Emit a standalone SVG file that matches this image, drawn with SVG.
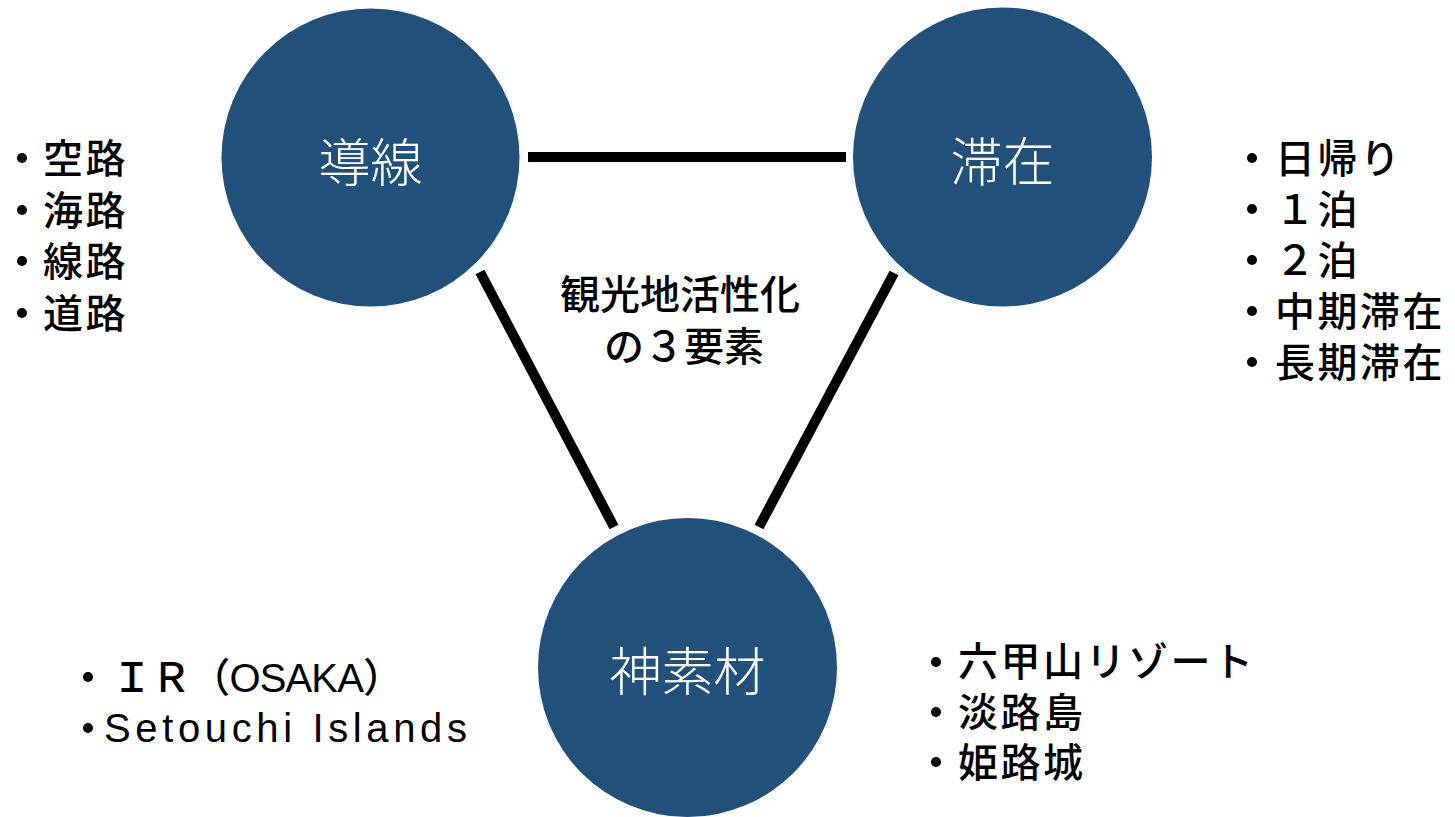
<svg xmlns="http://www.w3.org/2000/svg" width="1455" height="817" viewBox="0 0 1455 817">
<style>
.node{fill:#21507A;}
.lbl{font-family:"Noto Sans CJK JP","Noto Sans",sans-serif;font-size:52px;font-weight:300;fill:#FFFFFF;text-anchor:middle;}
.txt{font-family:"Liberation Sans","Noto Sans CJK JP",sans-serif;font-size:40px;font-weight:500;fill:#000000;letter-spacing:2.5px;}
.mid{font-family:"Liberation Sans","Noto Sans CJK JP",sans-serif;font-size:40px;font-weight:500;fill:#000000;text-anchor:middle;}
.conn{stroke:#000000;stroke-width:10;fill:none;stroke-linecap:butt;}
.bul{fill:#000000;}
</style>
<defs>
<circle id="b" r="5" class="bul"/>
</defs>
<rect width="1455" height="817" fill="#FFFFFF"/>
<g id="connectors">
<line class="conn" x1="528" y1="157" x2="846" y2="157"/>
<line class="conn" x1="480" y1="272" x2="614" y2="527"/>
<line class="conn" x1="894" y1="273" x2="759" y2="527"/>
</g>
<g id="node-dousen">
<circle class="node" cx="370.5" cy="157.5" r="149"/>
<text class="lbl" x="370.5" y="182">導線</text>
</g>
<g id="node-taizai">
<circle class="node" cx="1002.5" cy="157" r="149.5"/>
<text class="lbl" x="1002.5" y="181">滞在</text>
</g>
<g id="node-kamisozai">
<circle class="node" cx="687.5" cy="667.5" r="149.5"/>
<text class="lbl" x="687.5" y="691">神素材</text>
</g>
<g id="center-title">
<text class="mid" x="680" y="309">観光地活性化</text>
<text class="mid" x="684" y="361">の３要素</text>
</g>
<g id="list-dousen">
<use href="#b" x="22" y="158"/>
<use href="#b" x="22" y="210"/>
<use href="#b" x="22" y="261"/>
<use href="#b" x="22" y="313"/>
<text class="txt" x="43" y="173">空路</text>
<text class="txt" x="43" y="225">海路</text>
<text class="txt" x="43" y="276">線路</text>
<text class="txt" x="43" y="328">道路</text>
</g>
<g id="list-taizai">
<use href="#b" x="1252" y="158"/>
<use href="#b" x="1252" y="209"/>
<use href="#b" x="1252" y="260"/>
<use href="#b" x="1252" y="311"/>
<use href="#b" x="1252" y="362"/>
<text class="txt" x="1275" y="173">日帰り</text>
<text class="txt" x="1275" y="224">１泊</text>
<text class="txt" x="1275" y="275">２泊</text>
<text class="txt" x="1275" y="326">中期滞在</text>
<text class="txt" x="1275" y="377">長期滞在</text>
</g>
<g id="list-left-bottom">
<use href="#b" x="88" y="677"/>
<use href="#b" x="88" y="728"/>
<text class="txt" x="112" y="692" style="letter-spacing:0" textLength="291" lengthAdjust="spacing">ＩＲ（OSAKA）</text>
<text class="txt" x="104" y="742" style="letter-spacing:0" textLength="363" lengthAdjust="spacing">Setouchi Islands</text>
</g>
<g id="list-right-bottom">
<use href="#b" x="936" y="662"/>
<use href="#b" x="936" y="712"/>
<use href="#b" x="936" y="762"/>
<text class="txt" x="958" y="676">六甲山リゾート</text>
<text class="txt" x="958" y="727">淡路島</text>
<text class="txt" x="958" y="777">姫路城</text>
</g>
</svg>
